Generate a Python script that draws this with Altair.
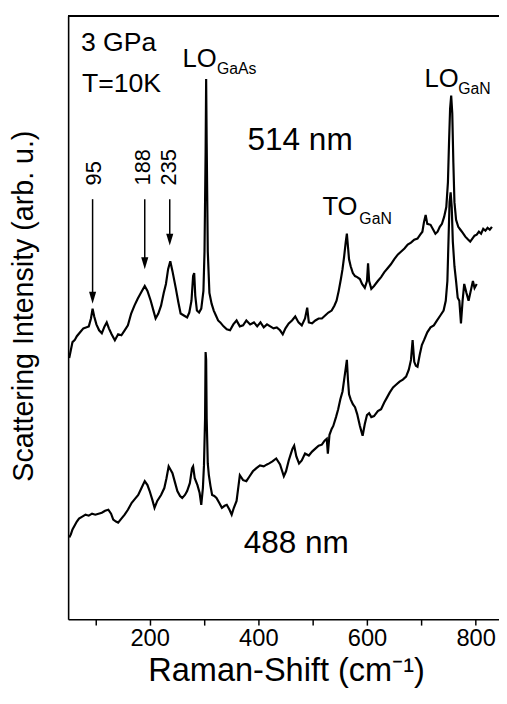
import altair as alt
import pandas as pd

# ---- spectra (Raman shift in cm^-1, intensity in arb. u.) ----
top_x = [52, 55, 58, 62, 66, 72, 78, 84, 88, 92, 95, 98, 102, 107, 112, 117, 121, 125, 130, 136,
         142, 148, 154, 160, 166, 172, 178, 184, 191, 196, 202, 207, 211, 216, 221, 226, 230, 234,
         238, 242, 248, 253, 257, 263, 269, 273, 277, 280, 282, 284, 287, 291, 295, 299, 301, 303,
         304, 305, 307, 310, 314, 318, 322, 326, 330, 336, 342, 348, 354, 360, 366, 372, 378, 385,
         392, 398, 404, 410, 416, 422, 428, 434, 440, 445, 450, 456, 462, 468, 474, 480, 486, 490,
         493, 499, 505, 511, 517, 523, 529, 535, 540, 544, 548, 552, 555, 558, 561, 563, 565, 567,
         570, 574, 578, 582, 587, 591, 596, 600, 602, 604, 608, 613, 620, 626, 632, 638, 644, 650,
         657, 663, 669, 675, 681, 687, 693, 698, 702, 705, 708, 711, 717, 722, 726, 730, 734, 738,
         742, 746, 749, 751, 753, 755, 757, 759, 761, 764, 768, 772, 776, 781, 786, 790, 794, 798,
         802, 806, 810, 814, 818, 822, 826, 830]
top_y = [265, 273, 281, 283, 287, 291, 295, 296, 297, 305, 315, 307, 299, 293, 290, 297, 301, 295, 289, 283,
         289, 288, 293, 298, 310, 318, 325, 331, 338, 333, 323, 313, 305, 310, 318, 331, 340, 355,
         363, 353, 336, 321, 310, 308, 306, 311, 323, 348, 351, 328, 313, 311, 315, 333, 373, 473,
         548, 483, 373, 331, 320, 313, 308, 303, 301, 297, 294, 293, 299, 303, 297, 298, 303, 299,
         301, 297, 301, 296, 299, 297, 295, 296, 293, 289, 295, 300, 303, 307, 301, 298, 305, 316,
         301, 300, 303, 305, 305, 308, 311, 313, 318, 323, 333, 345, 355, 368, 383, 391, 378, 365,
         358, 351, 348, 347, 345, 340, 336, 343, 361, 343, 335, 338, 343, 347, 352, 356, 360, 365,
         370, 373, 376, 380, 382, 385, 386, 390, 393, 403, 410, 401, 400, 395, 391, 393, 398, 401,
         408, 418, 443, 483, 518, 531, 513, 463, 423, 405, 398, 395, 392, 388, 385, 383, 386, 389,
         390, 393, 391, 396, 394, 397, 395, 398]

bot_x = [52, 55, 58, 62, 66, 70, 76, 82, 88, 94, 100, 106, 112, 118, 124, 129, 133, 138, 142, 148,
         154, 160, 167, 173, 179, 185, 191, 196, 200, 205, 209, 214, 221, 227, 231, 235, 239, 242,
         247, 251, 256, 260, 265, 269, 274, 278, 280, 283, 288, 292, 295, 298, 300, 302, 303, 304,
         305, 307, 309, 312, 315, 319, 323, 328, 333, 338, 342, 347, 351, 355, 360, 363, 366, 372,
         378, 384, 390, 396, 403, 410, 416, 420, 426, 433, 440, 447, 451, 456, 460, 463, 466, 470,
         475, 480, 486, 493, 499, 505, 511, 517, 522, 526, 528, 531, 535, 538, 543, 547, 551, 555,
         558, 561, 563, 565, 567, 570, 574, 578, 582, 587, 590, 592, 596, 600, 604, 608, 613, 620,
         626, 632, 637, 642, 648, 654, 660, 666, 672, 677, 681, 684, 687, 690, 693, 697, 701, 705,
         711, 717, 723, 729, 735, 741, 745, 748, 750, 752, 754, 756, 758, 761, 764, 767, 770, 773,
         776, 779, 783, 787, 791, 795, 798, 802]
bot_y = [83, 86, 91, 95, 99, 102, 104, 106, 105, 107, 106, 107, 108, 110, 111, 107, 101, 99, 98, 102,
         106, 111, 118, 122, 126, 133, 140, 136, 130, 121, 113, 120, 126, 133, 143, 155, 151, 148,
         138, 130, 125, 123, 126, 130, 138, 153, 155, 143, 136, 128, 116, 133, 156, 203, 271, 263,
         203, 158, 146, 135, 126, 125, 123, 118, 113, 115, 116, 111, 106, 113, 120, 133, 146, 141,
         140, 145, 150, 153, 156, 155, 157, 158, 160, 163, 157, 145, 150, 161, 168, 173, 176, 165,
         158, 161, 168, 166, 170, 173, 176, 177, 181, 183, 168, 187, 193, 196, 205, 213, 223, 231,
         243, 255, 263, 243, 228, 223, 218, 215, 208, 196, 190, 186, 198, 207, 209, 205, 206, 211,
         213, 220, 225, 230, 235, 238, 241, 243, 246, 253, 263, 283, 261, 257, 256, 268, 278, 283,
         291, 296, 298, 303, 308, 313, 323, 343, 383, 423, 433, 418, 383, 358, 343, 326, 323, 300,
         323, 340, 331, 323, 333, 343, 336, 340]

# ---- peak arrows ----
arrow_labels = ["95", "188", "235"]
arrow_x = [95, 191, 237]
arrow_top = [426, 426, 426]
arrow_tip = [320, 355, 379]
label_x = [97, 188, 236]
label_y = [440, 440, 440]

# ---- annotations ----
ann_text = ["3 GPa", "T=10K", "LO", "GaAs", "514 nm", "TO", "GaN", "LO", "GaN", "488 nm"]
ann_x = [73.5, 75.3, 260.4, 324, 380, 518, 586, 706, 768, 373]
ann_y = [576, 535, 560, 553, 476, 410, 401, 540, 533, 67]
ann_size = [27, 27, 26, 16, 32, 26, 16, 26, 16, 32]

x_ticks = [100, 200, 300, 400, 500, 600, 700, 800]

FONT = "Liberation Sans"
W, H = 437, 612

spec = pd.concat([
    pd.DataFrame({"shift": top_x, "intensity": top_y, "series": "514 nm"}),
    pd.DataFrame({"shift": bot_x, "intensity": bot_y, "series": "488 nm"}),
])
arrows = pd.DataFrame({"x": arrow_x, "top": arrow_top, "tip": arrow_tip,
                       "base": [t + 10 for t in arrow_tip]})
labels = pd.DataFrame({"text": arrow_labels, "x": label_x, "y": label_y})
ann = pd.DataFrame({"text": ann_text, "x": ann_x, "y": ann_y, "size": ann_size})

xscale = alt.Scale(domain=[50, 843], nice=False, zero=False)
yscale = alt.Scale(domain=[0, 612], nice=False, zero=False)

xaxis = alt.Axis(values=x_ticks, labelExpr="datum.value % 200 == 0 ? datum.label : ''",
                 grid=False, ticks=True, tickSize=6, tickWidth=1.5, tickColor="black",
                 domainColor="black", domainWidth=1.6, labelFont=FONT, labelFontSize=24,
                 labelColor="black", labelPadding=2, labelFlush=False,
                 title="Raman-Shift (cm⁻¹)", titleFont=FONT, titleFontSize=33,
                 titleFontWeight="normal", titleColor="black", titleX=221, titleY=62,
                 titleBaseline="alphabetic")
yaxis = alt.Axis(grid=False, ticks=False, labels=False, domainColor="black", domainWidth=1.6,
                 title="Scattering Intensity (arb. u.)", titleFont=FONT, titleFontSize=29,
                 titleFontWeight="normal", titleColor="black", titleX=-30, titleY=294,
                 titleAngle=270, titleBaseline="bottom", titleAlign="center")

lines = alt.Chart(spec).mark_line(color="black", strokeWidth=2.2).encode(
    x=alt.X("shift:Q", scale=xscale, axis=xaxis),
    y=alt.Y("intensity:Q", scale=yscale, axis=yaxis),
    detail="series:N",
)

top_border = alt.Chart(spec).mark_rule(color="black", strokeWidth=1.6).encode(
    x=alt.value(0), x2=alt.value(W), y=alt.value(0)
)

shafts = alt.Chart(arrows).mark_rule(color="black", strokeWidth=1.5).encode(
    x=alt.X("x:Q", scale=xscale), y=alt.Y("top:Q", scale=yscale), y2="base:Q"
)
heads = alt.Chart(arrows).mark_point(
    shape="M-0.6,-2L0.6,-2L0,0Z", filled=True, color="black", size=144, opacity=1
).encode(x=alt.X("x:Q", scale=xscale), y=alt.Y("tip:Q", scale=yscale))

rot_labels = alt.Chart(labels).mark_text(
    angle=270, align="left", baseline="middle", font=FONT, fontSize=22, color="black"
).encode(x=alt.X("x:Q", scale=xscale), y=alt.Y("y:Q", scale=yscale), text="text:N")

texts = alt.Chart(ann).mark_text(
    align="left", baseline="alphabetic", font=FONT, color="black"
).encode(
    x=alt.X("x:Q", scale=xscale), y=alt.Y("y:Q", scale=yscale), text="text:N",
    size=alt.Size("size:Q", scale=None, legend=None),
)

chart = alt.layer(lines, top_border, shafts, heads, rot_labels, texts).properties(
    width=W, height=H,
    autosize=alt.AutoSizeParams(type="none"),
    padding={"left": 61, "top": 3, "right": 0, "bottom": 73},
    background="white",
).configure_view(strokeWidth=0)

chart.save("out.html", embed_options={"renderer": "svg", "actions": False})
